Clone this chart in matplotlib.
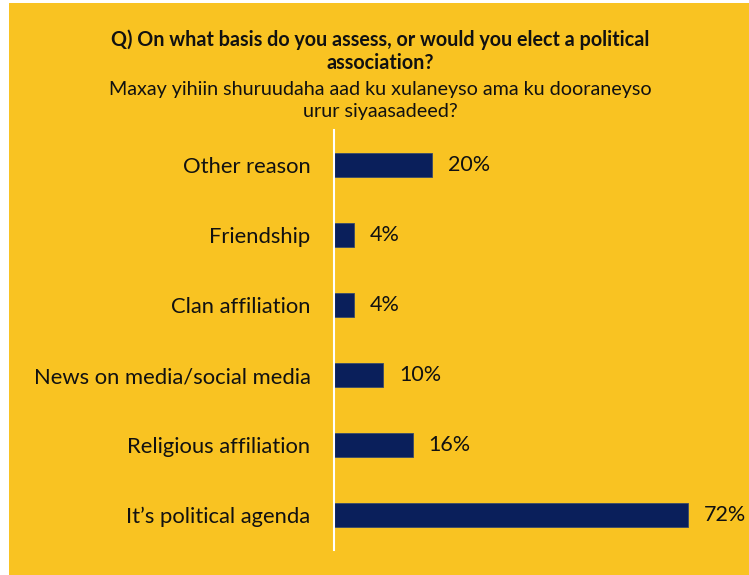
import matplotlib.pyplot as plt
from matplotlib.patches import Rectangle

categories = ["It\u2019s political agenda", "Religious affiliation", "News on media/social media",
              "Clan affiliation", "Friendship", "Other reason"]
values = [72, 16, 10, 4, 4, 20]
labels = ["72%", "16%", "10%", "4%", "4%", "20%"]

yellow = "#F9C322"
navy = "#0A1F5B"

plt.rcParams['font.family'] = ['Lato', 'DejaVu Sans']

W, H = 749, 575
fig = plt.figure(figsize=(W / 100, H / 100), dpi=100)
fig.patch.set_facecolor("white")
# yellow panel behind everything
fig.patches.append(Rectangle((9 / W, 0), 1 - 9 / W, 1 - 3 / H, transform=fig.transFigure,
                             facecolor=yellow, edgecolor="none", zorder=-1))

ax_left, ax_top, ax_bottom = 334, 130, 550
ax_right = 334 + 80 * 4.92
ax = fig.add_axes([ax_left / W, 1 - ax_bottom / H, (ax_right - ax_left) / W, (ax_bottom - ax_top) / H])
ax.set_facecolor("none")

y = range(len(categories))
ax.barh(y, values, height=0.355, color=navy, edgecolor="#3a4a6a", linewidth=0.6)
for yi, v, lab in zip(y, values, labels):
    ax.text(v + 3.2, yi, lab, va="center", ha="left", fontsize=15.5, color="#111111")

ax.set_ylim(-0.5, len(categories) - 0.5)
ax.set_xlim(0, 80)
ax.set_yticks(list(y))
ax.set_yticklabels(categories, fontsize=15.8, color="#111111")
ax.tick_params(axis="y", length=0, pad=17)
ax.set_xticks([])
for s in ["top", "right", "bottom"]:
    ax.spines[s].set_visible(False)
ax.spines["left"].set_color("white")
ax.spines["left"].set_linewidth(1.5)

fig.text(380 / W, 1 - 40 / H, "Q) On what basis do you assess, or would you elect a political",
         ha="center", va="center", fontsize=14.2, fontweight="bold", color="#111111")
fig.text(380 / W, 1 - 63 / H, "association?",
         ha="center", va="center", fontsize=14.2, fontweight="bold", color="#111111")
fig.text(380 / W, 1 - 89 / H, "Maxay yihiin shuruudaha aad ku xulaneyso ama ku dooraneyso",
         ha="center", va="center", fontsize=14.2, color="#111111")
fig.text(380 / W, 1 - 112 / H, "urur siyaasadeed?",
         ha="center", va="center", fontsize=14.2, color="#111111")

fig.savefig("out.png", dpi=100, facecolor=fig.get_facecolor())
